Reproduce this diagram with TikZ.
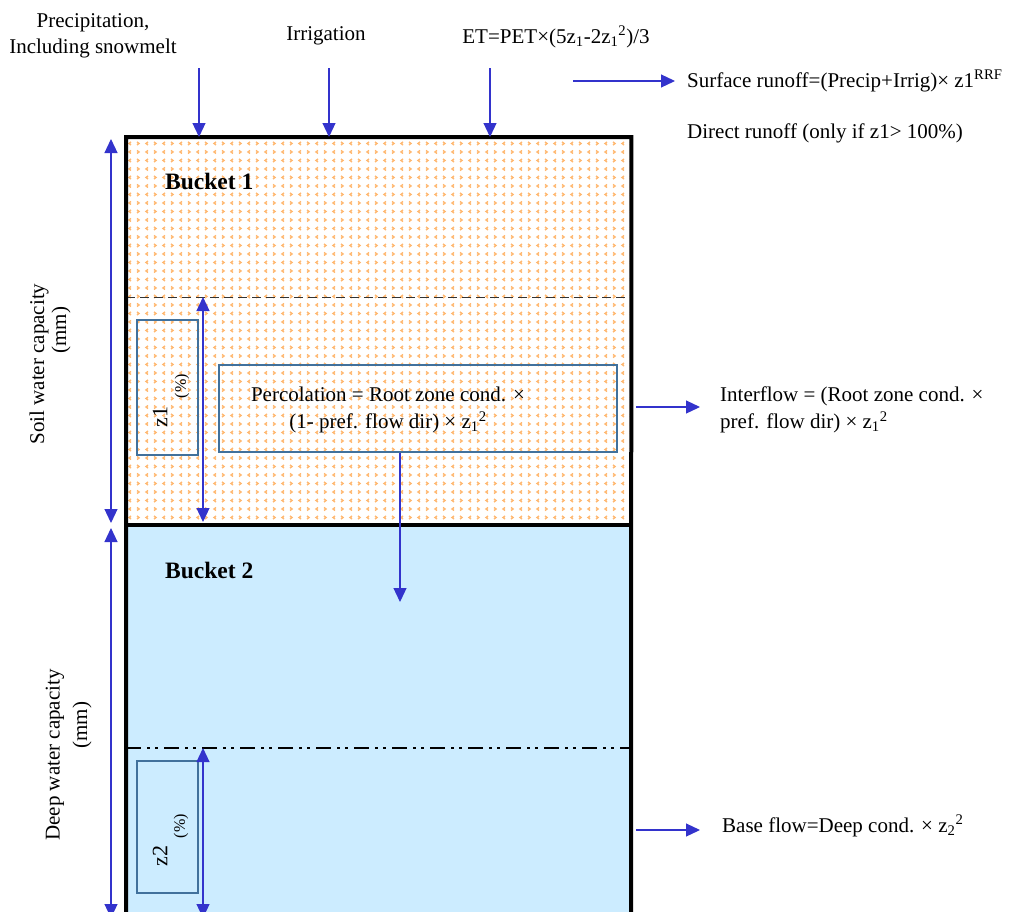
\documentclass[tikz,border=0pt]{standalone}
\usepackage{fontspec}
\setmainfont{Liberation Serif}
\usetikzlibrary{arrows.meta,patterns}
\definecolor{flowblue}{HTML}{3333CC}
\definecolor{boxblue}{HTML}{41719C}
\definecolor{deepfill}{HTML}{CCECFF}
\definecolor{soilmark}{HTML}{FFB870}
\pgfdeclarepatternformonly{chevrons}{\pgfpoint{-1pt}{-1pt}}{\pgfpoint{18pt}{18pt}}{\pgfpoint{17pt}{17pt}}{%
  \pgfsetlinewidth{1.4pt}%
  \pgfpathmoveto{\pgfpoint{1pt}{1pt}}\pgfpathlineto{\pgfpoint{3pt}{2.5pt}}\pgfpathlineto{\pgfpoint{1pt}{4pt}}%
  \pgfpathmoveto{\pgfpoint{12pt}{9.5pt}}\pgfpathlineto{\pgfpoint{10pt}{11pt}}\pgfpathlineto{\pgfpoint{12pt}{12.5pt}}%
  \pgfpathmoveto{\pgfpoint{12pt}{1pt}}\pgfpathlineto{\pgfpoint{10pt}{2.5pt}}\pgfpathlineto{\pgfpoint{12pt}{4pt}}%
  \pgfpathmoveto{\pgfpoint{1pt}{9.5pt}}\pgfpathlineto{\pgfpoint{3pt}{11pt}}\pgfpathlineto{\pgfpoint{1pt}{12.5pt}}%
  \pgfusepath{stroke}}
\tikzset{
  flow/.style={draw=flowblue, line width=1.2pt, -{Triangle[length=14pt,width=13pt]}},
  dflow/.style={draw=flowblue, line width=1.2pt, {Triangle[length=14pt,width=13pt]}-{Triangle[length=14pt,width=13pt]}},
  lbl/.style={font=\fontsize{21}{26}\selectfont, inner sep=0pt, align=center},
  lbll/.style={font=\fontsize{21}{27}\selectfont, inner sep=0pt, align=left, anchor=west},
  small/.style={font=\fontsize{16}{18}\selectfont, inner sep=0pt},
  zlbl/.style={font=\fontsize{22}{24}\selectfont, inner sep=0pt},
  bucketlbl/.style={font=\fontsize{23.5}{28}\selectfont\bfseries, inner sep=0pt, anchor=west},
  region/.style={inner sep=0pt, anchor=north west},
  infobox/.style={draw=boxblue, line width=2pt, inner sep=0pt, anchor=north west},
}
\begin{document}
\begin{tikzpicture}[x=1pt, y=-1pt]
\useasboundingbox (0,0) rectangle (1011,911);
% buckets
\node[region, fill=white, minimum width=505pt, minimum height=388pt] (b1) at (126,137) {};
\node[region, pattern=chevrons, pattern color=soilmark, minimum width=505pt, minimum height=388pt] (b1p) at (126,137) {};
\node[region, fill=deepfill, minimum width=505pt, minimum height=400pt] (b2) at (126,525) {};
% level lines
\draw[black!80, line width=1pt, dash pattern=on 9pt off 5pt] (126,297) coordinate (l1a) -- (631,297) coordinate (l1b);
\draw[black, line width=2pt, dash pattern=on 15pt off 6pt on 3pt off 5pt on 3pt off 6pt] (126,748) coordinate (l2a) -- (631,748) coordinate (l2b);
% info boxes
\node[infobox, minimum width=61pt, minimum height=135pt] (z1box) at (136,319) {};
\node[infobox, minimum width=398pt, minimum height=87pt] (percbox) at (218,364) {};
\node[infobox, minimum width=61pt, minimum height=132pt] (z2box) at (136,760) {};
% outlines
\draw[line width=4pt] (126,925) coordinate (b2bl) -- (b1.north west) -- (b1.north east) -- (631,925) coordinate (b2br);
\draw[line width=4pt] (b2.north west) -- (b2.north east);
% top labels
\node[lbl] (precip) at (93,36) {Precipitation,\\Including snowmelt};
\node[lbl] (irrig) at (326,36) {Irrigation};
\node[lbl] (et) at (556,37) {ET=PET×(5z\textsubscript{1}-2z\textsubscript{1}\textsuperscript{2})/3};
\coordinate (p0) at (199,68); \coordinate (p1) at (199,137);
\coordinate (i0) at (329,68); \coordinate (i1) at (329,137);
\coordinate (e0) at (490,68); \coordinate (e1) at (490,137);
\draw[flow] (p0) -- (p1);
\draw[flow] (i0) -- (i1);
\draw[flow] (e0) -- (e1);
% surface runoff
\node[lbll] (surf) at (687,81) {Surface runoff=(Precip+Irrig)× z1\textsuperscript{RRF}};
\node[lbll] (direct) at (687,133) {Direct runoff (only if z1> 100\%)};
\coordinate (s0) at (573,81);
\draw[flow] (s0) -- (surf.west -| 675,0);
% bucket labels
\node[bucketlbl] (bk1) at (165,181) {Bucket 1};
\node[bucketlbl] (bk2) at (165,570) {Bucket 2};
% percolation
\node[font=\fontsize{21}{27}\selectfont, inner sep=0pt, align=center] (perc) at (388,410) {Percolation = Root zone cond. ×\\(1- pref. flow dir) × z\textsubscript{1}\textsuperscript{2}};
\coordinate (pc1) at (400,602);
\draw[flow] (percbox.south -| pc1) -- (pc1);
% interflow
\node[lbll] (inter) at (720,410) {Interflow = (Root zone cond. ×\\pref. flow dir) × z\textsubscript{1}\textsuperscript{2}};
\coordinate (if0) at (636,407); \coordinate (if1) at (700,407);
\draw[flow] (if0) -- (if1);
% base flow
\node[lbll] (base) at (722,826) {Base flow=Deep cond. × z\textsubscript{2}\textsuperscript{2}};
\coordinate (bf0) at (636,830); \coordinate (bf1) at (700,830);
\draw[flow] (bf0) -- (bf1);
% z labels
\node[zlbl, rotate=90] (z1) at (160,417) {z1};
\node[small, rotate=90] (z1p) at (182,386) {(\%)};
\node[zlbl, rotate=90] (z2) at (160,856) {z2};
\node[small, rotate=90] (z2p) at (181,826) {(\%)};
% level arrows
\coordinate (za) at (203,522);
\draw[dflow] (l1a -| za) -- (za);
\coordinate (zb) at (203,918);
\draw[dflow] (l2a -| zb) -- (zb);
% capacity arrows
\coordinate (c1a) at (111,139); \coordinate (c1b) at (111,523);
\draw[dflow] (c1a) -- (c1b);
\coordinate (c2a) at (111,528); \coordinate (c2b) at (111,918);
\draw[dflow] (c2a) -- (c2b);
\node[lbl, rotate=90] (soil) at (39,364) {Soil water capacity};
\node[lbl, rotate=90] (soilmm) at (61,330) {(mm)};
\node[lbl, rotate=90] (deep) at (55,755) {Deep water capacity};
\node[lbl, rotate=90] (deepmm) at (82,725) {(mm)};
\end{tikzpicture}
\end{document}
